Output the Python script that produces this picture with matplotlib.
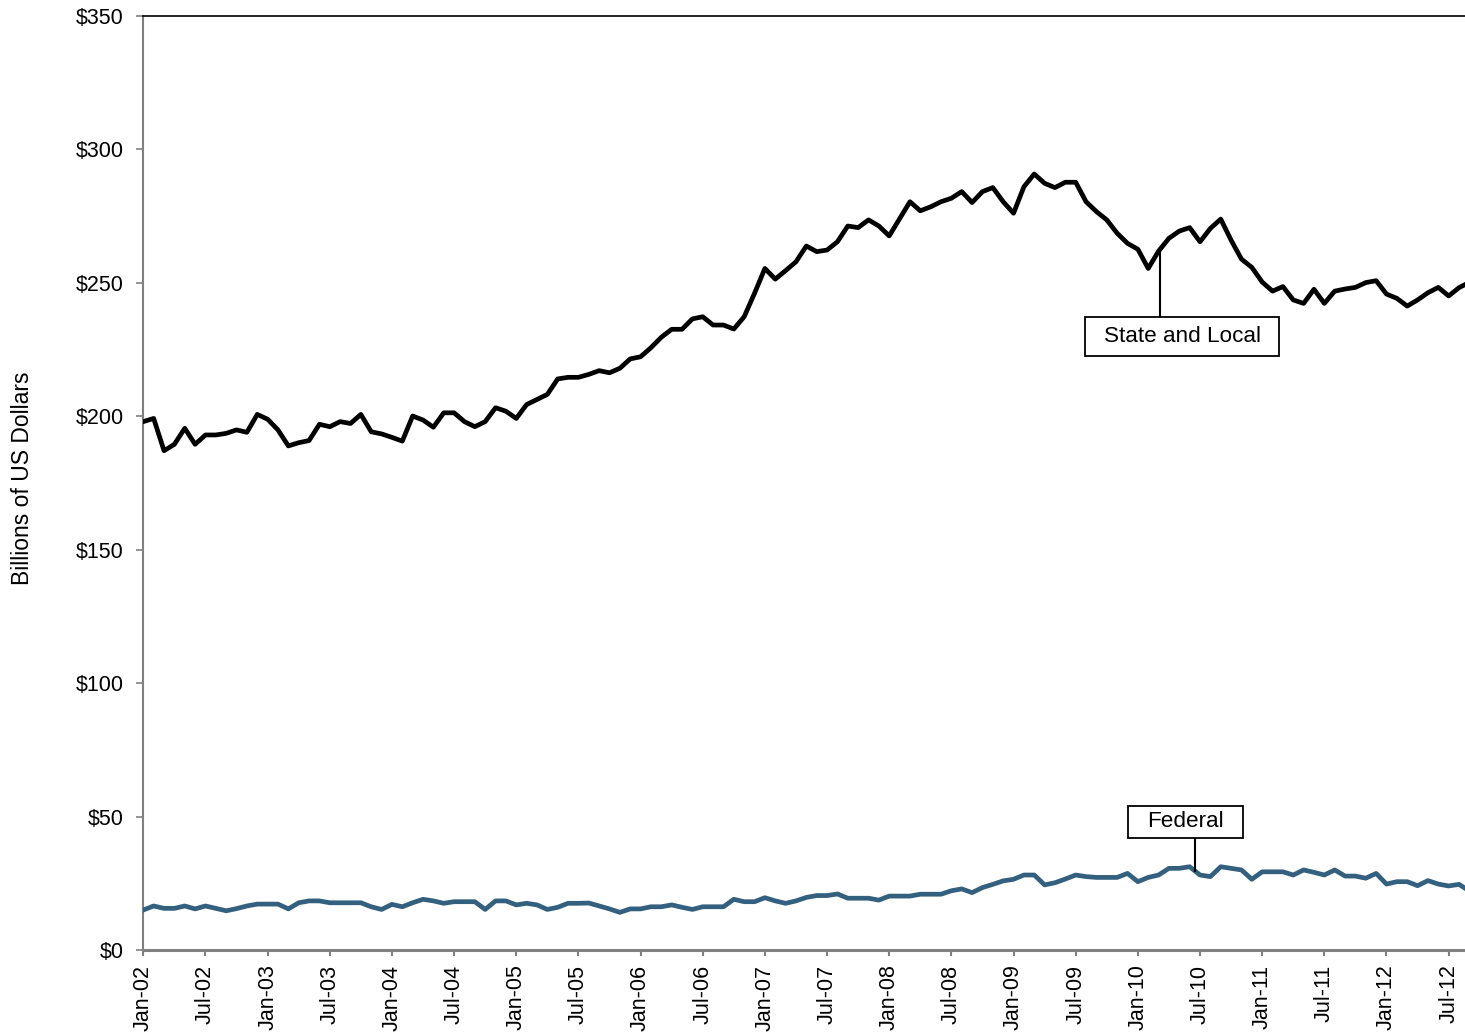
import numpy as np
import matplotlib
matplotlib.use("Agg")
import matplotlib.pyplot as plt
from matplotlib.patches import Rectangle

# Monthly spending, billions of US dollars, starting Jan-2002
state_local = [
    198.0, 199.2, 187.1, 189.5, 195.5, 189.5, 193.0, 193.0, 193.6, 194.9, 194.0, 200.7,
    198.9, 194.9, 188.9, 190.1, 190.9, 197.0, 196.1, 198.0, 197.3, 200.7, 194.2, 193.4,
    192.1, 190.7, 200.1, 198.6, 195.9, 201.3, 201.3, 198.0, 196.1, 198.0, 203.2, 201.9,
    199.2, 204.4, 206.3, 208.2, 214.0, 214.6, 214.6, 215.7, 217.1, 216.3, 218.0, 221.5,
    222.3, 225.7, 229.6, 232.6, 232.6, 236.5, 237.3, 234.2, 234.2, 232.7, 237.3, 246.1,
    255.4, 251.4, 254.6, 257.9, 263.8, 261.7, 262.3, 265.4, 271.3, 270.7, 273.6, 271.3,
    267.6, 274.0, 280.4, 277.0, 278.5, 280.4, 281.7, 284.2, 280.1, 284.2, 285.7, 280.4,
    276.1, 286.0, 290.8, 287.3, 285.7, 287.7, 287.7, 280.4, 276.7, 273.6, 268.6, 264.8,
    262.6, 255.4, 261.9, 266.7, 269.4, 270.7, 265.4, 270.4, 273.9, 266.0, 258.9, 255.8,
    250.3, 246.9, 248.6, 243.6, 242.3, 247.6, 242.3, 246.9, 247.7, 248.3, 250.1, 250.8,
    245.8, 244.2, 241.3, 243.6, 246.3, 248.3, 245.1, 248.2, 250.2,
]
federal = [
    15.0, 16.5, 15.6, 15.6, 16.5, 15.4, 16.5, 15.6, 14.7, 15.5, 16.5, 17.2,
    17.2, 17.2, 15.4, 17.7, 18.4, 18.4, 17.7, 17.7, 17.7, 17.7, 16.2, 15.2,
    17.1, 16.2, 17.7, 19.0, 18.4, 17.5, 18.1, 18.1, 18.1, 15.2, 18.4, 18.4,
    16.9, 17.5, 16.9, 15.2, 16.0, 17.5, 17.5, 17.6, 16.5, 15.4, 14.1, 15.4,
    15.4, 16.2, 16.2, 16.9, 16.0, 15.2, 16.2, 16.2, 16.2, 19.0, 18.1, 18.1,
    19.6, 18.4, 17.5, 18.4, 19.7, 20.4, 20.4, 21.0, 19.4, 19.4, 19.4, 18.7,
    20.2, 20.2, 20.2, 20.9, 20.9, 20.9, 22.2, 22.9, 21.5, 23.4, 24.6, 25.9,
    26.5, 28.1, 28.1, 24.4, 25.2, 26.6, 28.1, 27.5, 27.2, 27.2, 27.2, 28.7,
    25.6, 27.2, 28.1, 30.6, 30.6, 31.2, 28.1, 27.5, 31.2, 30.6, 30.0, 26.5,
    29.3, 29.3, 29.3, 28.1, 30.0, 29.1, 28.1, 30.0, 27.7, 27.7, 26.9, 28.7,
    24.7, 25.6, 25.6, 24.1, 26.0, 24.7, 24.0, 24.6, 22.1,
]
tick_labels = [
    "Jan-02", "Jul-02", "Jan-03", "Jul-03", "Jan-04", "Jul-04", "Jan-05", "Jul-05",
    "Jan-06", "Jul-06", "Jan-07", "Jul-07", "Jan-08", "Jul-08", "Jan-09", "Jul-09",
    "Jan-10", "Jul-10", "Jan-11", "Jul-11", "Jan-12", "Jul-12",
]
y_ticks = [0, 50, 100, 150, 200, 250, 300, 350]

plt.rcParams["font.family"] = ["Liberation Sans", "DejaVu Sans"]
FS = 15.5
GRAY = "#808080"
BLUE = "#33607f"

months = np.arange(len(state_local))

fig = plt.figure(figsize=(14.65, 10.32), dpi=100)
ax = fig.add_axes([143.3 / 1465, 1 - 950 / 1032, 1 - 143.3 / 1465, (950 - 16) / 1032])

ax.plot(months, state_local, color="black", lw=3.4, solid_joinstyle="round", zorder=3)
ax.plot(months, federal, color=BLUE, lw=3.4, solid_joinstyle="round", zorder=3)

ax.set_xlim(0, (1465 - 143.3) / 10.36)
ax.set_ylim(0, 350)

ax.set_xticks(np.arange(0, 6 * len(tick_labels), 6))
ax.set_xticklabels(tick_labels, rotation=90, fontsize=FS)
ax.set_yticks(y_ticks)
ax.set_yticklabels([f"${v}" for v in y_ticks], fontsize=FS)
ax.tick_params(axis="x", direction="out", length=4.5, width=1.5, color=GRAY, pad=6)
ax.tick_params(axis="y", direction="out", length=5, width=1.2, color=GRAY, pad=9)

ax.spines["right"].set_visible(False)
ax.spines["top"].set_color("black")
ax.spines["top"].set_linewidth(1.2)
ax.spines["left"].set_color(GRAY)
ax.spines["left"].set_linewidth(1.5)
ax.spines["bottom"].set_color(GRAY)
ax.spines["bottom"].set_linewidth(2.2)

fig.text(23 / 1465, 1 - 478 / 1032, "Billions of US Dollars", rotation=90,
         ha="center", va="center", fontsize=16.5)


def callout(label, x0, x1, y0, y1, lead_x, series, end_y):
    # boxed series label with a vertical leader to the curve
    ax.plot([lead_x, lead_x], [np.interp(lead_x, months, series), end_y],
            color="black", lw=1.5, zorder=4)
    ax.add_patch(Rectangle((x0, y0), x1 - x0, y1 - y0, fc="white", ec="black",
                           lw=1.3, zorder=5))
    ax.text((x0 + x1) / 2, (y0 + y1) / 2, label, ha="center", va="center",
            fontsize=16.2, zorder=6)


callout("State and Local", 90.9, 109.65, 222.5, 237.3, 98.1, state_local, 237.3)
callout("Federal", 95.02, 106.12, 41.9, 54.1, 101.5, federal, 41.9)

fig.savefig("out.png", dpi=100)
